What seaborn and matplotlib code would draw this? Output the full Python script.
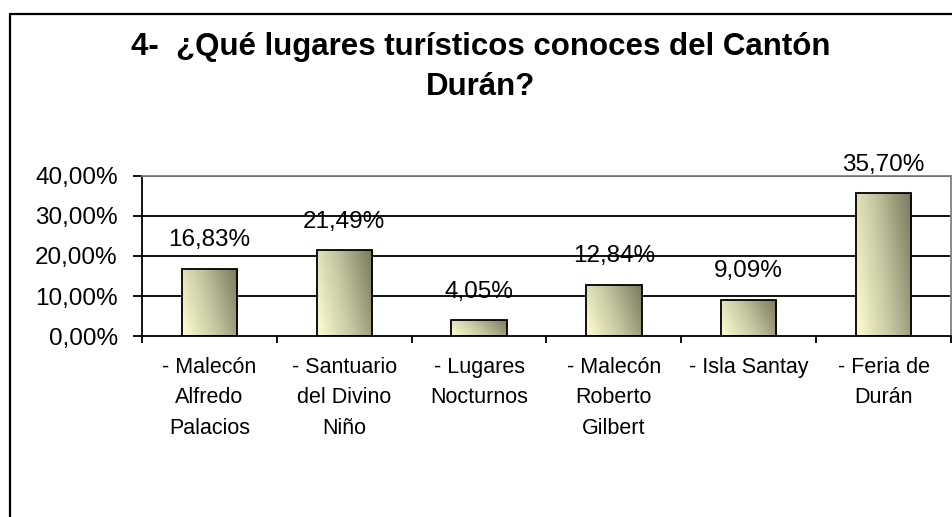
import numpy as np
import pandas as pd
import matplotlib
matplotlib.use('Agg')
import matplotlib.pyplot as plt
import seaborn as sns
from matplotlib.colors import LinearSegmentedColormap
from matplotlib.lines import Line2D

CATEGORIES = ['- Malecón\nAlfredo\nPalacios', '- Santuario\ndel Divino\nNiño',
              '- Lugares\nNocturnos', '- Malecón\nRoberto\nGilbert',
              '- Isla Santay', '- Feria de\nDurán']
VALUES = [16.83, 21.49, 4.05, 12.84, 9.09, 35.70]
Y_TICKS = [0, 10, 20, 30, 40]
TITLE = '4-  ¿Qué lugares turísticos conoces del Cantón\nDurán?'

sns.set_theme(style='white')
plt.rcParams['font.family'] = ['Liberation Sans', 'DejaVu Sans']
plt.rcParams['text.color'] = 'black'
plt.rcParams['xtick.color'] = 'black'
plt.rcParams['ytick.color'] = 'black'

df = pd.DataFrame({'lugar': CATEGORIES, 'pct': VALUES})

fig = plt.figure(figsize=(9.52, 5.17), dpi=100)
fig.patch.set_facecolor('white')
ax = fig.add_axes([142 / 952, 1 - 336 / 517, 809 / 952, 160 / 517])

sns.barplot(data=df, x='lugar', y='pct', ax=ax, width=0.41,
            color='#d8d8b0', edgecolor='black', linewidth=1.3, zorder=3)

# gradient fill inside each bar
cmap = LinearSegmentedColormap.from_list('grad', ['#ffffd0', '#c4c4a0', '#78785c'])
gy, gx = np.mgrid[0:1:100j, 0:1:100j]
grad = 0.75 * gx + 0.25 * gy
for p in ax.patches:
    x0, y0 = p.get_x(), p.get_y()
    w, h = p.get_width(), p.get_height()
    im = ax.imshow(grad, cmap=cmap, extent=[x0, x0 + w, y0 + h, y0],
                   aspect='auto', origin='upper', zorder=2.5)
    im.set_clip_path(p)
    p.set_facecolor('none')
    p.set_zorder(4)

ax.set_xlim(-0.5, len(CATEGORIES) - 0.5)
ax.set_ylim(0, 40)

# value labels
for i, v in enumerate(VALUES):
    ax.annotate(f'{v:.2f}%'.replace('.', ','), (i, v), xytext=(0, 16),
                textcoords='offset points', ha='center', va='baseline',
                fontsize=17.5, annotation_clip=False)

# grid
ax.set_yticks(Y_TICKS)
ax.set_yticklabels([f'{t:.2f}%'.replace('.', ',') for t in Y_TICKS], fontsize=17.5)
for t in Y_TICKS[1:]:
    ax.axhline(t, color='black', lw=1.3, zorder=1)

ax.set_xticks(np.arange(len(CATEGORIES) + 1) - 0.5, minor=True)
ax.set_xticks(np.arange(len(CATEGORIES)))
ax.set_xticklabels(CATEGORIES, fontsize=15.5, linespacing=1.6, va='top')
ax.tick_params(axis='x', which='major', length=0, pad=15)
ax.tick_params(axis='x', which='minor', length=5, width=1.3, direction='out', bottom=True)
ax.tick_params(axis='y', length=6.5, width=1.3, direction='out', left=True, pad=11)
ax.set_xlabel('')
ax.set_ylabel('')

for s in ['left', 'bottom']:
    ax.spines[s].set_color('black')
    ax.spines[s].set_linewidth(1.3)
for s in ['top', 'right']:
    ax.spines[s].set_color('#808080')
    ax.spines[s].set_linewidth(1.3)

fig.text(481 / 952, 1 - 67 / 517, TITLE, ha='center', va='center',
         fontsize=22.5, fontweight='bold', linespacing=1.45)

# outer chart frame (cut off at right and bottom)
fig.add_artist(Line2D([10 / 952, 10 / 952], [0, 1 - 14 / 517], transform=fig.transFigure,
                      color='black', lw=1.6))
fig.add_artist(Line2D([10 / 952, 1], [1 - 14 / 517, 1 - 14 / 517], transform=fig.transFigure,
                      color='black', lw=1.6))

fig.savefig('out.png', dpi=100, facecolor='white')
